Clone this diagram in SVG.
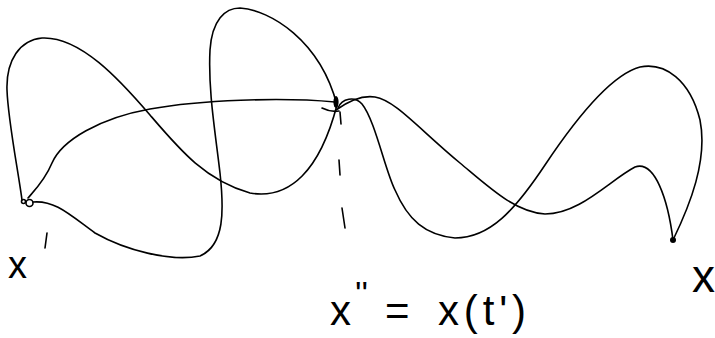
<svg xmlns="http://www.w3.org/2000/svg" width="715" height="338" viewBox="0 0 715 338">
<style>
.c{fill:none;stroke:#000;stroke-width:1.6;stroke-linecap:round;stroke-linejoin:round}
.t{font-family:"Liberation Sans",Arial,sans-serif;fill:#000}
</style>
<rect width="715" height="338" fill="#fff"/>
<g id="curves">
<path class="c" d="M22,200 C18,170 8,120 7,90 C6,60 20,40 42,38 C80,36 120,80 150,115 C180,150 205,180 250,193 C290,200 320,170 337,105"/>
<path class="c" d="M28,198 C35,190 45,180 52,163 C62,140 100,118 150,109 C200,100 280,97 335,102"/>
<path class="c" d="M33,202 C55,200 70,215 95,233 C125,250 170,262 200,256 C225,245 224,210 220,173 C215,130 208,90 210,50 C212,20 225,8 240,8 C270,10 320,40 337,105"/>
<path class="c" d="M338,108 C342,98 355,96 362,104 C375,120 385,170 395,190 C408,220 425,235 455,238 C490,238 515,210 545,165 C575,120 610,75 640,67 C665,62 690,80 700,120 C708,160 690,205 673,240"/>
<path class="c" d="M336,110 C350,100 362,95 375,97 C395,100 420,130 460,163 C490,188 515,212 545,214 C580,214 610,180 635,167 C655,160 668,200 673,240"/>
</g>
<g id="points">
<circle class="c" cx="29.5" cy="203" r="3.5"/>
<circle class="c" cx="23.5" cy="201.5" r="2"/>
<ellipse cx="336" cy="102" rx="2.6" ry="6" fill="#000"/>
<path class="c" d="M322,108 C328,111 333,112 339,111"/>
<circle cx="673" cy="240" r="3" fill="#000"/>
</g>
<g id="guides">
<path class="c" d="M340,112 L341,124"/>
<path class="c" d="M339,160 L340,175"/>
<path class="c" d="M342,208 L345,228"/>
<path class="c" d="M47,233 L45,248"/>
</g>
<g id="labels">
<text class="t" x="8" y="278" font-size="38">x</text>
<text class="t" x="692" y="292" font-size="46">x</text>
<text class="t" font-size="42"><tspan x="330" y="325">x</tspan><tspan x="355" y="305" font-size="34">''</tspan><tspan x="385" y="325">=</tspan><tspan x="438" y="325" textLength="88" lengthAdjust="spacing">x(t')</tspan></text>
</g>
</svg>
